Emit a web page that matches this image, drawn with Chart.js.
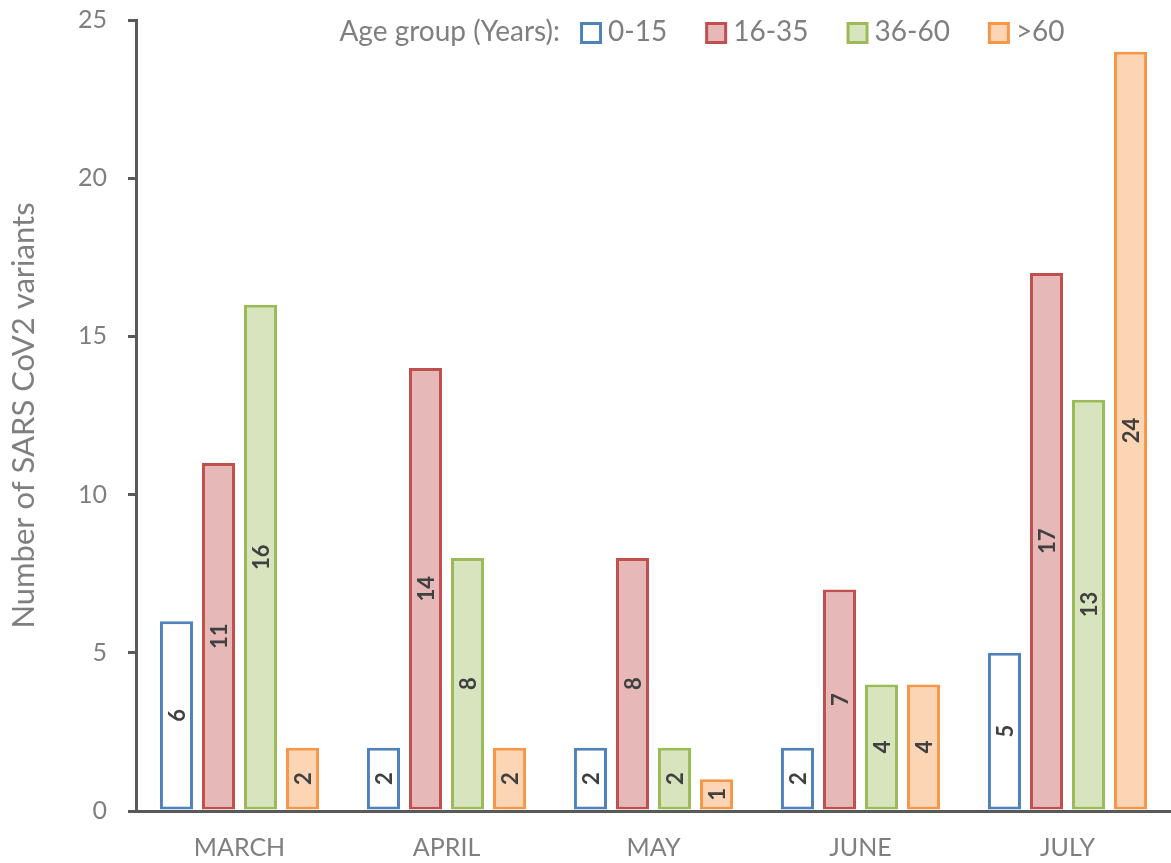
<!DOCTYPE html>
<html>
<head>
<meta charset="utf-8">
<script src="https://cdn.jsdelivr.net/npm/chart.js@4"></script>
<style>
  html, body { margin: 0; padding: 0; background: #fff; }
  .chart-box { width: 1171px; height: 863px; }
</style>
</head>
<body>
<div class="chart-box"><canvas id="myChart"></canvas></div>
<script>
const months = ["MARCH", "APRIL", "MAY", "JUNE", "JULY"]
const age0to15 = [6, 2, 2, 2, 5]
const age16to35 = [11, 14, 8, 7, 17]
const age36to60 = [16, 8, 2, 4, 13]
const ageOver60 = [2, 2, 1, 4, 24]
const yTicks = [0, 5, 10, 15, 20, 25]
const legendTitle = "Age group (Years):"

const gray = "#7f7f7f"
const axisGray = "#595959"
const font = "Lato"

// value labels, rotated, in the middle of each bar
const barLabels = {
    id: "barLabels",
    afterDatasetsDraw(chart) {
        const ctx = chart.ctx
        ctx.save()
        ctx.font = "bold 22px " + font
        ctx.fillStyle = "#404040"
        ctx.textAlign = "center"
        ctx.textBaseline = "middle"
        chart.data.datasets.forEach((ds, i) => {
            chart.getDatasetMeta(i).data.forEach((bar, j) => {
                ctx.save()
                ctx.translate(bar.x, (bar.y + bar.base) / 2)
                ctx.rotate(-Math.PI / 2)
                ctx.fillText(ds.data[j], 0, 1)
                ctx.restore()
            })
        })
        ctx.restore()
    }
}

// one-row legend with a lead-in title, sitting inside the plot at the top
const legendRow = {
    id: "legendRow",
    afterDraw(chart) {
        const ctx = chart.ctx
        const box = 19, gapText = 28, gapItem = 38, gapTitle = 20
        ctx.save()
        ctx.font = "28px " + font
        ctx.textBaseline = "middle"

        let total = ctx.measureText(legendTitle).width + gapTitle
        chart.data.datasets.forEach((ds, i) => {
            total += gapText + ctx.measureText(ds.label).width
            if (i < chart.data.datasets.length - 1) total += gapItem
        })

        let x = 702 - total / 2
        const y = 33
        ctx.fillStyle = gray
        ctx.fillText(legendTitle, x, y - 1)
        x += ctx.measureText(legendTitle).width + gapTitle

        chart.data.datasets.forEach(ds => {
            ctx.lineWidth = 3
            ctx.fillStyle = ds.backgroundColor
            ctx.strokeStyle = ds.borderColor
            ctx.fillRect(x + 1.5, y - box / 2, box, box)
            ctx.strokeRect(x + 1.5, y - box / 2, box, box)
            ctx.fillStyle = gray
            ctx.fillText(ds.label, x + gapText, y - 1)
            x += gapText + ctx.measureText(ds.label).width + gapItem
        })
        ctx.restore()
    }
}

new Chart(document.getElementById("myChart"), {
    type: "bar",
    data: {
        labels: months,
        datasets: [
            { label: "0-15", data: age0to15, backgroundColor: "#ffffff", borderColor: "#4f81bd" },
            { label: "16-35", data: age16to35, backgroundColor: "#e6b9b8", borderColor: "#c0504d" },
            { label: "36-60", data: age36to60, backgroundColor: "#d7e4bd", borderColor: "#9bbb59" },
            { label: ">60", data: ageOver60, backgroundColor: "#fcd5b5", borderColor: "#f79646" }
        ]
    },
    options: {
        responsive: true,
        maintainAspectRatio: false,
        animation: false,
        layout: { padding: { top: 20, right: 0, bottom: 0, left: 0 } },
        datasets: {
            bar: {
                borderWidth: 3,
                borderSkipped: false,
                categoryPercentage: 0.812,
                barPercentage: 0.786
            }
        },
        plugins: {
            tooltip: { enabled: false },
            legend: { display: false }
        },
        scales: {
            x: {
                z: 1,
                afterFit(scale) { scale.height = 52 },
                grid: { display: true, drawOnChartArea: false, drawTicks: false },
                border: { display: true, color: axisGray, width: 3 },
                ticks: { color: gray, font: { family: font, size: 25 }, padding: 22 }
            },
            y: {
                z: 1,
                min: yTicks[0],
                max: yTicks[yTicks.length - 1],
                afterFit(scale) {
                    scale.width = 136
                    scale.paddingTop = 0
                    scale.paddingBottom = 0
                },
                grid: { display: true, drawOnChartArea: false, drawTicks: true, tickLength: 8, color: axisGray, lineWidth: 3 },
                border: { display: true, color: axisGray, width: 3 },
                ticks: { stepSize: yTicks[1] - yTicks[0], color: gray, font: { family: font, size: 25 }, padding: 21 },
                title: {
                    display: true,
                    text: "Number of SARS CoV2 variants",
                    color: gray,
                    font: { family: font, size: 31 },
                    padding: { top: 5, bottom: 0 }
                }
            }
        }
    },
    plugins: [barLabels, legendRow]
})
</script>
</body>
</html>
